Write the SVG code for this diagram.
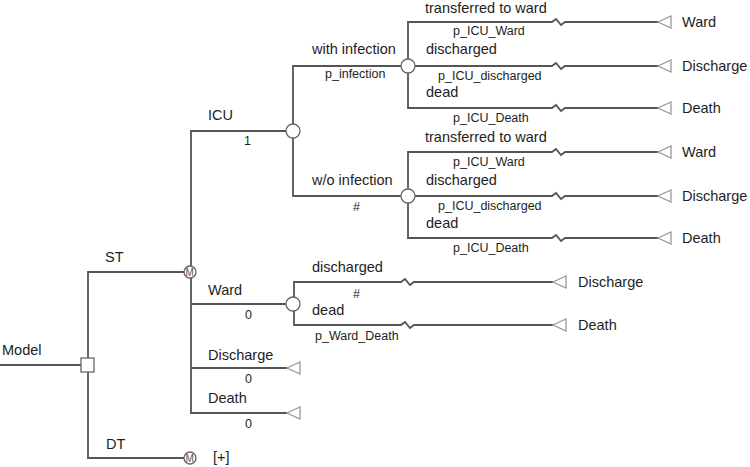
<svg xmlns="http://www.w3.org/2000/svg" width="750" height="467" viewBox="0 0 750 467">
<style>
.ln{fill:none;stroke:#555;stroke-width:1.8}
.ch{fill:#fff;stroke:#666;stroke-width:1.3}
.tm{fill:#fff;stroke:#999;stroke-width:1.3}
.t{font-family:"Liberation Sans",Arial,sans-serif;font-size:14.5px;fill:#1e1e1e}
.p{font-family:"Liberation Sans",Arial,sans-serif;font-size:12.5px;fill:#1e1e1e}
.m{font-family:"Liberation Sans",Arial,sans-serif;font-size:10px;fill:#555}
</style>
<defs>
<path id="tri" class="tm" d="M0,0 L13,-6 L13,6 Z"/>
</defs>
<rect width="750" height="467" fill="#fff"/>
<g id="connectors">
<path class="ln" d="M0,365 H81"/>
<path class="ln" d="M88,359 V272 H184 M88,372 V458 H184"/>
<path class="ln" d="M191,278 V131 H286 M191,278 V413 H287 M191,304 H286 M191,368 H287"/>
<path class="ln" d="M293,124 V66 H401 M293,138 V196 H401"/>
<path class="ln" d="M408,59 V22 H552 L556,19 L561,25 L565,22 H658 M415,66 H552 L556,63 L561,69 L565,66 H658 M408,73 V108 H552 L556,105 L561,111 L565,108 H658"/>
<path class="ln" d="M408,189 V152 H552 L556,149 L561,155 L565,152 H658 M415,196 H552 L556,193 L561,199 L565,196 H658 M408,203 V238 H552 L556,235 L561,241 L565,238 H658"/>
<path class="ln" d="M294,297 V282 H401 L405,279 L410,285 L414,282 H553 M294,310 V325 H401 L405,322 L410,328 L414,325 H553"/>
</g>
<g id="model">
<rect class="ch" x="81" y="358" width="13" height="14"/>
<text class="t" x="2" y="355">Model</text>
</g>
<g id="st">
<circle class="ch" cx="190" cy="272" r="6"/>
<text class="m" x="185.5" y="275.5">M</text>
<text class="t" x="105" y="262">ST</text>
</g>
<g id="dt">
<circle class="ch" cx="190" cy="458" r="6"/>
<text class="m" x="185.5" y="461.5">M</text>
<text class="t" x="106" y="449">DT</text>
<text class="t" x="213" y="462">[+]</text>
</g>
<g id="icu">
<circle class="ch" cx="293" cy="131" r="7"/>
<text class="t" x="208" y="120">ICU</text>
<text class="p" x="244" y="145">1</text>
</g>
<g id="with-infection">
<circle class="ch" cx="408" cy="66" r="7"/>
<text class="t" x="312" y="54">with infection</text>
<text class="p" x="325" y="78">p_infection</text>
<text class="t" x="425" y="13">transferred to ward</text>
<text class="p" x="453" y="35">p_ICU_Ward</text>
<text class="t" x="426" y="54">discharged</text>
<text class="p" x="438" y="80">p_ICU_discharged</text>
<text class="t" x="426" y="97">dead</text>
<text class="p" x="453" y="122">p_ICU_Death</text>
<use href="#tri" x="658" y="22"/>
<use href="#tri" x="658" y="66"/>
<use href="#tri" x="658" y="108"/>
<text class="t" x="682" y="27">Ward</text>
<text class="t" x="682" y="71">Discharge</text>
<text class="t" x="682" y="113">Death</text>
</g>
<g id="wo-infection">
<circle class="ch" cx="408" cy="196" r="7"/>
<text class="t" x="312" y="185">w/o infection</text>
<text class="p" x="353" y="211">#</text>
<text class="t" x="425" y="142">transferred to ward</text>
<text class="p" x="453" y="166">p_ICU_Ward</text>
<text class="t" x="426" y="185">discharged</text>
<text class="p" x="438" y="210">p_ICU_discharged</text>
<text class="t" x="426" y="228">dead</text>
<text class="p" x="453" y="252">p_ICU_Death</text>
<use href="#tri" x="658" y="152"/>
<use href="#tri" x="658" y="196"/>
<use href="#tri" x="658" y="238"/>
<text class="t" x="682" y="157">Ward</text>
<text class="t" x="682" y="201">Discharge</text>
<text class="t" x="682" y="243">Death</text>
</g>
<g id="ward">
<circle class="ch" cx="293" cy="304" r="7"/>
<text class="t" x="208" y="295">Ward</text>
<text class="p" x="245" y="319">0</text>
<text class="t" x="312" y="272">discharged</text>
<text class="p" x="353" y="298">#</text>
<text class="t" x="312" y="315">dead</text>
<text class="p" x="315" y="340">p_Ward_Death</text>
<use href="#tri" x="553" y="282"/>
<use href="#tri" x="553" y="325"/>
<text class="t" x="578" y="287">Discharge</text>
<text class="t" x="578" y="330">Death</text>
</g>
<g id="discharge">
<use href="#tri" x="287" y="368"/>
<text class="t" x="208" y="360">Discharge</text>
<text class="p" x="245" y="383">0</text>
</g>
<g id="death">
<use href="#tri" x="287" y="413"/>
<text class="t" x="208" y="403">Death</text>
<text class="p" x="245" y="428">0</text>
</g>
</svg>
